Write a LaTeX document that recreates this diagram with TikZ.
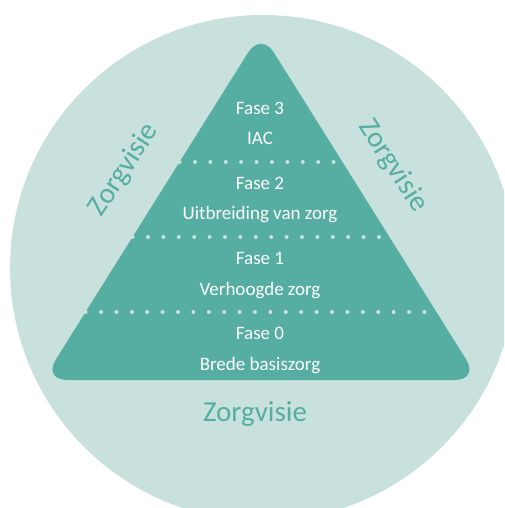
\documentclass[tikz,border=0pt]{standalone}
\usepackage{fontspec}
\setmainfont{Carlito}
\usetikzlibrary{calc}
\definecolor{zorglight}{RGB}{200,225,220}
\definecolor{zorgteal}{RGB}{85,174,161}

\begin{document}
\begin{tikzpicture}[x=1pt,y=-1pt,
		fase/.style={text=white,font=\fontsize{19}{22}\selectfont,anchor=base},
		visie/.style={text=zorgteal,font=\fontsize{29}{34}\selectfont},
		dotline/.style={draw=zorglight,line width=4pt,line cap=round,dash pattern=on 0pt off 15.4pt}]
			\useasboundingbox (0,0) rectangle (504,508);
			\clip (0,0) rectangle (504,508);
			\fill[zorglight] (263,268) circle (253pt);
			\coordinate (top) at (261,32);
			\coordinate (bl) at (43,380);
			\coordinate (br) at (479,380);
			\fill[zorgteal,rounded corners=24pt] ($(bl)!0.5!(br)$) -- (bl) -- (top) -- (br) -- cycle;
			\foreach \t in {0.3736,0.589,0.8046}
				\draw[dotline] ($(top)!\t!(bl)$) -- ($(top)!\t!(br)$);
			\node[fase] (fase3) at (260,114) {Fase 3};
			\node[fase] (iac) at (260,144) {IAC};
			\node[fase] (fase2) at (260,189) {Fase 2};
			\node[fase] (uitbreiding) at (260,219) {Uitbreiding van zorg};
			\node[fase] (fase1) at (260,264) {Fase 1};
			\node[fase] (verhoogd) at (260,295) {Verhoogde zorg};
			\node[fase] (fase0) at (260,339) {Fase 0};
			\node[fase] (basis) at (260,370) {Brede basiszorg};
			\node[visie,anchor=base] (visieonder) at (255,421) {Zorgvisie};
			\node[visie,rotate=57] (visielinks) at (124,170) {Zorgvisie};
			\node[visie,rotate=-57] (visierechts) at (393,166) {Zorgvisie};
		\end{tikzpicture}
\end{document}
